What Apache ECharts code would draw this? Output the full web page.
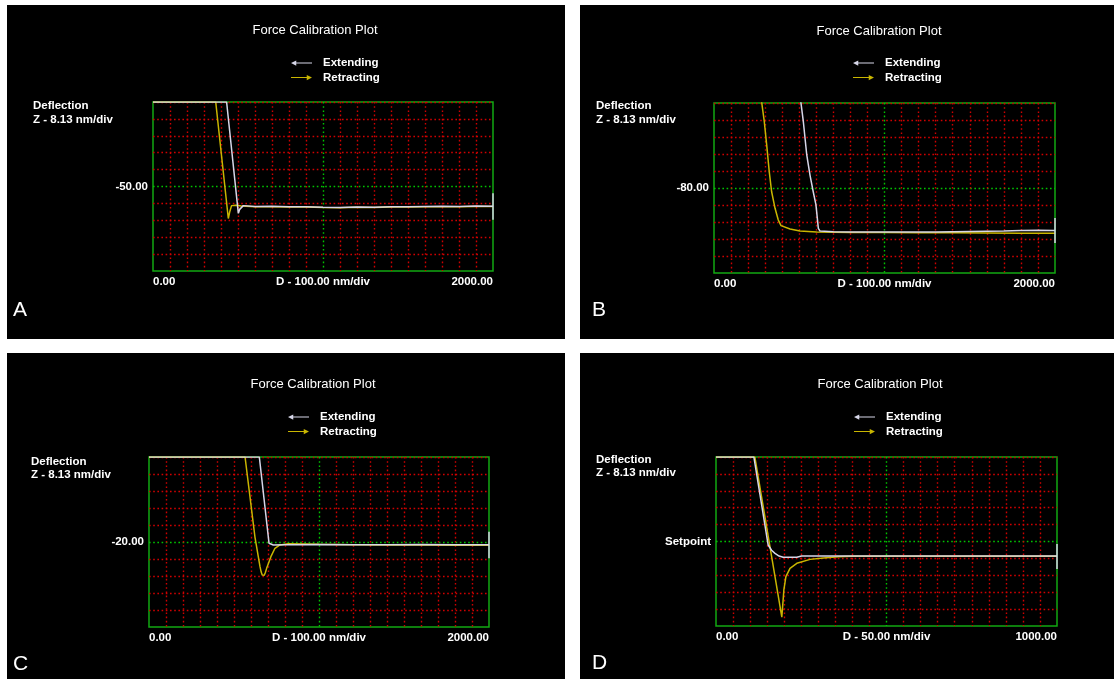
<!DOCTYPE html>
<html><head><meta charset="utf-8">
<script src="https://cdn.jsdelivr.net/npm/echarts@6/dist/echarts.min.js"></script>
<style>html,body{margin:0;padding:0;background:#fff}#c{width:1114px;height:679px}</style>
</head><body><div id="c"></div>
<script>
// ---------- data ----------
const panelLetters = ['A', 'B', 'C', 'D'];
const titleText = 'Force Calibration Plot';
const seriesNames = ['Extending', 'Retracting'];
const yAxisTitle = ['Deflection', 'Z - 8.13 nm/div'];
const yDivNm = 8.13;          // nm per division
const yDivisions = 10;
const centerLabels = ['-50.00', '-80.00', '-20.00', 'Setpoint'];
const xMaxValues = [2000, 2000, 2000, 1000];
const xDivValues = [100, 100, 100, 50];
const xMinLabels = ['0.00', '0.00', '0.00', '0.00'];
const xMaxLabels = ['2000.00', '2000.00', '2000.00', '1000.00'];
const xMidLabels = ['D - 100.00 nm/div', 'D - 100.00 nm/div', 'D - 100.00 nm/div', 'D - 50.00 nm/div'];

// deflection (nm, relative to the centre line) vs distance D (nm)
const extendA = [[0,40.65],[433,40.65],[502,-12.9],[510,-11.0],[531,-9.2],[600,-9.6],[700,-9.5],[800,-9.8],[900,-9.7],[1000,-10.0],[1100,-10.1],[1200,-9.9],[1300,-10.0],[1400,-9.7],[1500,-9.8],[1600,-9.6],[1700,-9.5],[1800,-9.6],[1900,-9.4],[2000,-9.5],[2000,-3.3],[2000,-16.0]];
const retractA = [[0,40.65],[369,40.65],[443,-15.4],[452,-12.0],[462,-9.2],[488,-9.0],[520,-9.4],[600,-9.8],[700,-9.7],[800,-9.9],[900,-9.9],[1000,-10.1],[1100,-10.2],[1200,-10.0],[1300,-10.1],[1400,-9.9],[1500,-9.9],[1600,-9.8],[1700,-9.7],[1800,-9.8],[1900,-9.6],[2000,-9.6]];

const extendB = [[508,42.0],[524,31.7],[544,15.8],[563,6.2],[582,-1.8],[598,-8.1],[612,-19.3],[622,-20.6],[700,-20.9],[800,-21.0],[900,-21.1],[1000,-21.0],[1100,-21.0],[1200,-21.1],[1300,-21.0],[1400,-20.9],[1500,-20.8],[1600,-20.7],[1700,-20.6],[1800,-20.3],[1900,-20.2],[2000,-20.3],[2000,-14.3],[2000,-26.3]];
const retractB = [[278,42.0],[295,31.7],[309,20.6],[324,7.8],[338,-1.8],[358,-9.7],[377,-15.3],[393,-18.0],[446,-19.6],[504,-20.6],[602,-21.0],[800,-21.3],[1000,-21.3],[1200,-21.4],[1400,-21.4],[1600,-21.5],[1800,-21.6],[2000,-21.6]];

const extendC = [[0,40.65],[649,40.65],[706,-0.6],[731,-1.4],[800,-1.3],[1000,-1.2],[1200,-1.3],[1400,-1.3],[1600,-1.2],[1800,-1.3],[2000,-1.3],[2000,4.9],[2000,-7.8]];
const retractC = [[0,40.65],[565,40.65],[623,2.5],[653,-11.8],[660,-14.4],[666,-15.8],[672,-16.3],[678,-15.9],[684,-14.7],[692,-12.6],[717,-7.0],[741,-3.0],[770,-1.4],[819,-0.8],[1000,-1.1],[1200,-1.3],[1400,-1.4],[1600,-1.4],[1800,-1.5],[2000,-1.6]];

const extendD = [[0,40.65],[111,40.65],[153,-1.7],[163,-4.2],[173,-5.7],[185,-7.0],[197,-7.6],[237,-7.6],[251,-7.0],[300,-7.0],[400,-7.0],[500,-7.0],[600,-7.0],[700,-7.0],[800,-7.0],[900,-7.0],[1000,-7.0],[1000,-1.2],[1000,-13.2]];
const retractD = [[0,40.65],[114,40.65],[193,-36.4],[196,-30.0],[199,-23.3],[205,-16.9],[217,-12.9],[237,-10.5],[276,-8.6],[315,-7.9],[359,-7.3],[400,-7.1],[600,-7.1],[800,-7.1],[1000,-7.1]];

const extendData = [extendA, extendB, extendC, extendD];
const retractData = [retractA, retractB, retractC, retractD];

// ---------- layout / style ----------
const FONT = '"Liberation Sans", Arial, sans-serif';
const colExtend = '#d6d6e8';
const colRetract = '#c9b600';
const red = '#d00000';
const green = '#00c400';
const grids = [
  {left: 153, top: 102, width: 340, height: 169},
  {left: 714, top: 103, width: 341, height: 170},
  {left: 149, top: 457, width: 340, height: 170},
  {left: 716, top: 457, width: 341, height: 169}
];
const titlePos = [[315, 30], [879, 31], [313, 384], [880, 384]];
const legendPos = [[291, 57], [853, 57], [288, 411], [854, 411]];
const deflPos = [[33, 106], [596, 106], [31, 461.5], [596, 459.5]];
const letterPos = [[13, 310], [592, 310], [13, 664], [592, 663]];

const leftArrow = 'path://M0,5 L6,2 L6,4.4 L24,4.4 L24,5.6 L6,5.6 L6,8 Z';
const rightArrow = 'path://M24,5 L18,2 L18,4.4 L0,4.4 L0,5.6 L18,5.6 L18,8 Z';

const graphic = [
  // white gutters between the black panels
  {type: 'rect', shape: {x: 0, y: 0, width: 1114, height: 5}, style: {fill: '#fff'}},
  {type: 'rect', shape: {x: 0, y: 0, width: 7, height: 679}, style: {fill: '#fff'}},
  {type: 'rect', shape: {x: 565, y: 0, width: 15, height: 679}, style: {fill: '#fff'}},
  {type: 'rect', shape: {x: 0, y: 339, width: 1114, height: 14}, style: {fill: '#fff'}}
];
for (let i = 0; i < 4; i++) {
  graphic.push({type: 'text', x: titlePos[i][0], y: titlePos[i][1],
    style: {text: titleText, fill: '#fff', font: '13px ' + FONT, align: 'center', verticalAlign: 'middle'}});
  graphic.push({type: 'text', x: deflPos[i][0], y: deflPos[i][1],
    style: {text: yAxisTitle[0], fill: '#fff', font: 'bold 11.5px ' + FONT, align: 'left', verticalAlign: 'middle'}});
  graphic.push({type: 'text', x: deflPos[i][0], y: deflPos[i][1] + 13.5,
    style: {text: yAxisTitle[1], fill: '#fff', font: 'bold 11.5px ' + FONT, align: 'left', verticalAlign: 'middle'}});
  graphic.push({type: 'text', x: letterPos[i][0], y: letterPos[i][1],
    style: {text: panelLetters[i], fill: '#fff', font: '21px ' + FONT, align: 'left', verticalAlign: 'middle'}});
}

const xAxes = [], yAxes = [], series = [], legends = [];
for (let i = 0; i < 4; i++) {
  const nx = xMaxValues[i] / xDivValues[i];
  const xColors = [];
  for (let k = 1; k < nx; k++) xColors.push(k === nx / 2 ? green : red);
  const yColors = [];
  for (let k = 1; k < yDivisions; k++) yColors.push(k === yDivisions / 2 ? green : red);
  const half = yDivNm * yDivisions / 2;
  xAxes.push({
    type: 'value', gridIndex: i, min: 0, max: xMaxValues[i], interval: xDivValues[i],
    axisLine: {show: false}, axisTick: {show: false},
    splitLine: {show: true, showMinLine: false, showMaxLine: false,
      lineStyle: {color: xColors, type: [1.6, 2.6], width: 1.4}},
    axisLabel: {
      show: true, margin: 5, color: '#fff', fontSize: 11.5, fontWeight: 'bold', fontFamily: FONT,
      alignMinLabel: 'left', alignMaxLabel: 'right', showMinLabel: true, showMaxLabel: true,
      formatter: (v) => v === 0 ? xMinLabels[i] : (v === xMaxValues[i] ? xMaxLabels[i] : (v === xMaxValues[i] / 2 ? xMidLabels[i] : ''))
    }
  });
  yAxes.push({
    type: 'value', gridIndex: i, min: -half, max: half, interval: yDivNm,
    axisLine: {show: false}, axisTick: {show: false},
    splitLine: {show: true, showMinLine: false, showMaxLine: false,
      lineStyle: {color: yColors, type: [1.6, 2.6], width: 1.4}},
    axisLabel: {
      show: true, margin: 5, color: '#fff', fontSize: 11.5, fontWeight: 'bold', fontFamily: FONT,
      formatter: (v) => Math.abs(v) < 1e-6 ? centerLabels[i] : ''
    }
  });
  series.push({type: 'line', name: seriesNames[1], xAxisIndex: i, yAxisIndex: i, data: retractData[i],
    symbol: 'none', showSymbol: false, color: colRetract, lineStyle: {width: 1.5, color: colRetract}, z: 3, animation: false});
  series.push({type: 'line', name: seriesNames[0], xAxisIndex: i, yAxisIndex: i, data: extendData[i],
    symbol: 'none', showSymbol: false, color: colExtend, lineStyle: {width: 1.5, color: colExtend}, z: 4, animation: false});
  legends.push({
    orient: 'vertical', left: legendPos[i][0], top: legendPos[i][1], padding: 0,
    itemWidth: 21, itemHeight: 7, itemGap: 2.5, selectedMode: false,
    textStyle: {color: '#fff', fontSize: 11.5, fontWeight: 'bold', fontFamily: FONT, padding: [0, 0, 0, 6]},
    data: [{name: seriesNames[0], icon: leftArrow}, {name: seriesNames[1], icon: rightArrow}]
  });
}

const chart = echarts.init(document.getElementById('c'), null, {renderer: 'canvas'});
chart.setOption({
  backgroundColor: '#000',
  animation: false,
  graphic: graphic,
  legend: legends,
  grid: grids.map(g => Object.assign({show: true, borderColor: '#12a812', borderWidth: 1.5, backgroundColor: 'transparent', containLabel: false}, g)),
  xAxis: xAxes,
  yAxis: yAxes,
  series: series
});
</script></body></html>
